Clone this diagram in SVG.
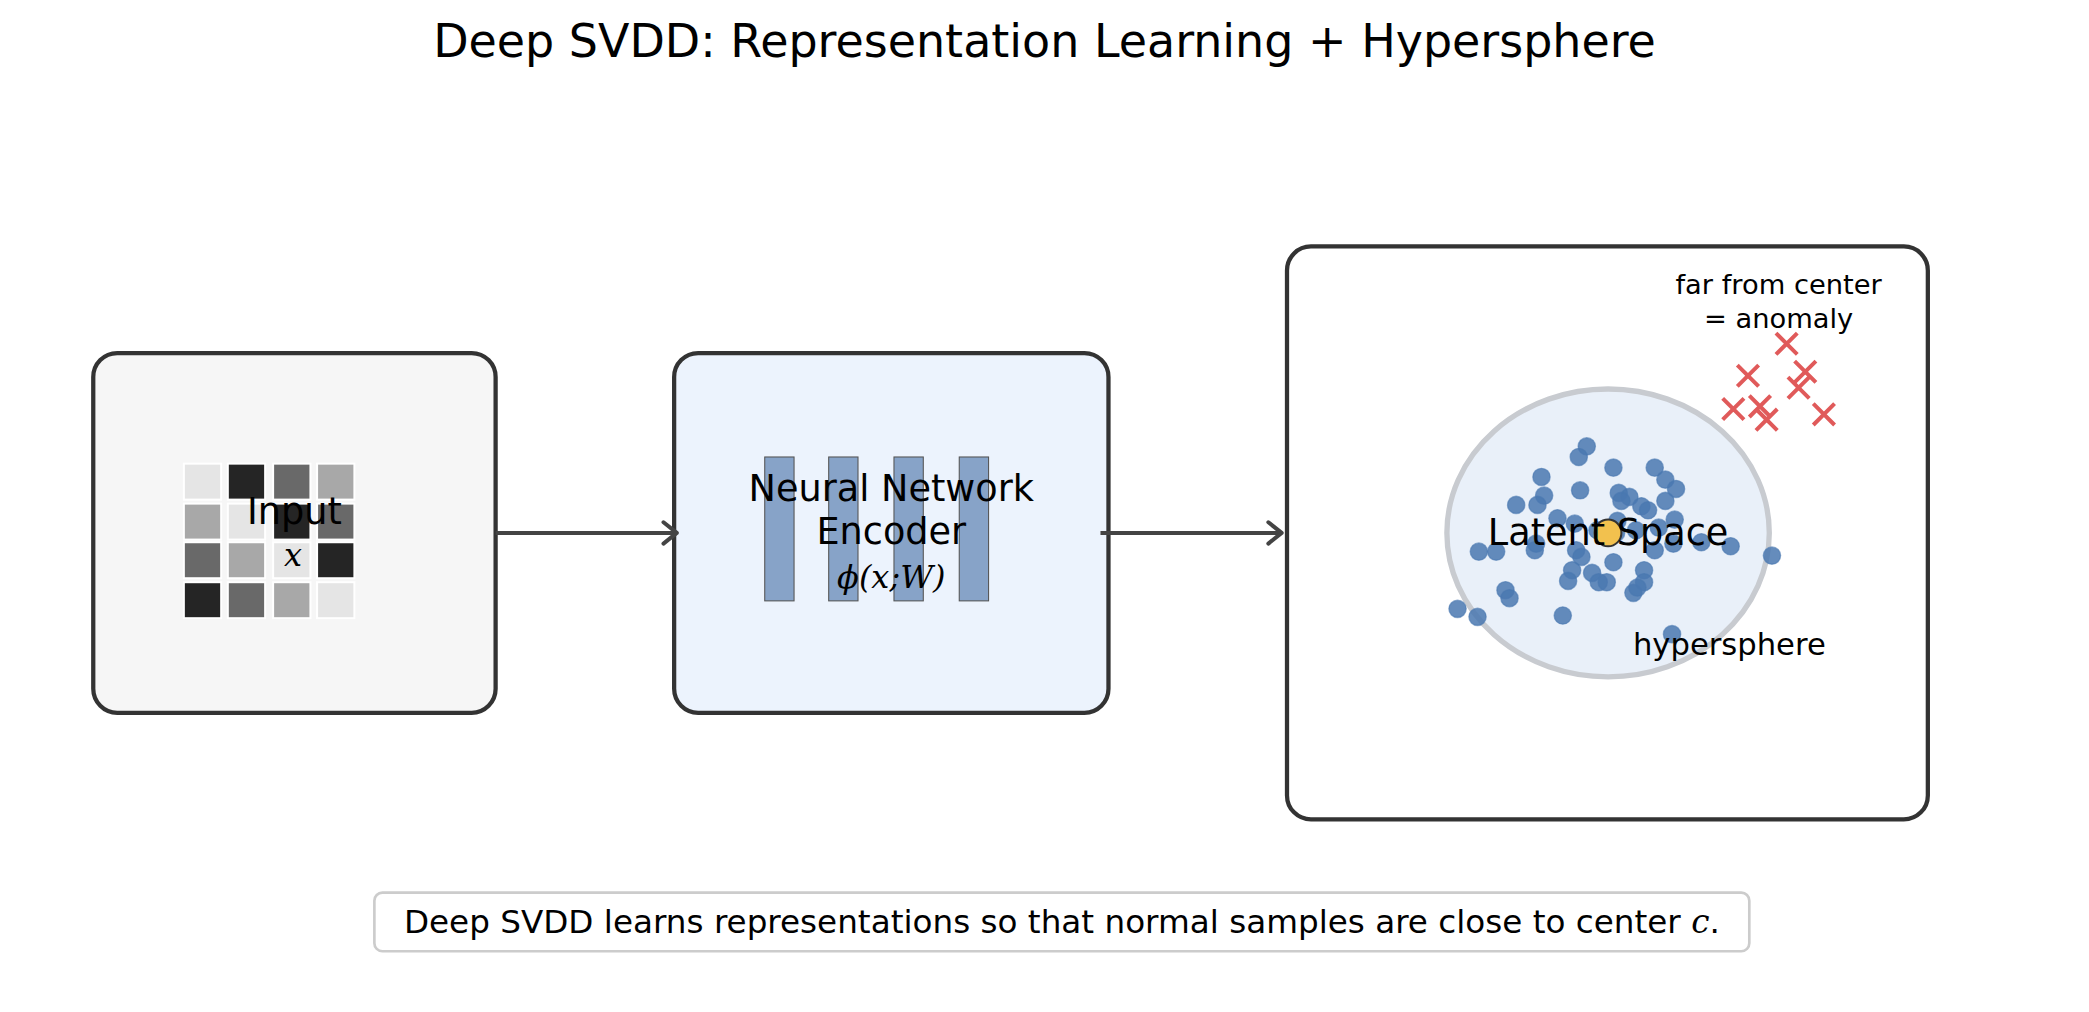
<svg xmlns="http://www.w3.org/2000/svg" width="2089" height="1012" viewBox="0 0 2089 1012">
<style>
text{font-family:"DejaVu Sans",sans-serif;fill:#000;text-anchor:middle}
.m{font-family:"DejaVu Serif","Liberation Serif",serif;font-style:italic}
.box{stroke:#333;stroke-width:3.2}
.bar{fill:#87a3c8;stroke:#555;stroke-width:0.8}
.d{fill:#4a78b0;fill-opacity:0.85;stroke:#4a78b0;stroke-opacity:0.6}
.x{stroke:#e05a5a;stroke-width:3;stroke-linecap:butt}
.c{stroke:#444;stroke-width:3;fill:none}
</style>
<defs>
<marker id="ah" viewBox="0 0 20 20" refX="18" refY="10" markerWidth="20" markerHeight="20" orient="auto" markerUnits="userSpaceOnUse"><path d="M8,2 L18,10 L8,18" fill="none" stroke="#444" stroke-width="3" stroke-linecap="round" stroke-linejoin="round"/></marker>
<g id="cr"><path class="x" d="M-8,-8 L8,8 M-8,8 L8,-8"/></g>
</defs>
<rect width="2089" height="1012" fill="#fff"/>
<g transform="scale(1.3323)">
<text x="784" y="43" font-size="34.5">Deep SVDD: Representation Learning + Hypersphere</text>
<g id="input">
<rect class="box" x="70" y="265" width="302" height="270" rx="18" fill="#f6f6f6"/>
<g stroke="#fff" stroke-width="1.5">
<rect x="138" y="348" width="28" height="27" fill="#e5e5e5"/><rect x="171" y="348" width="28" height="27" fill="#252525"/><rect x="205" y="348" width="28" height="27" fill="#696969"/><rect x="238" y="348" width="28" height="27" fill="#a8a8a8"/>
<rect x="138" y="378" width="28" height="27" fill="#a8a8a8"/><rect x="171" y="378" width="28" height="27" fill="#e5e5e5"/><rect x="205" y="378" width="28" height="27" fill="#252525"/><rect x="238" y="378" width="28" height="27" fill="#696969"/>
<rect x="138" y="407" width="28" height="27" fill="#696969"/><rect x="171" y="407" width="28" height="27" fill="#a8a8a8"/><rect x="205" y="407" width="28" height="27" fill="#e5e5e5"/><rect x="238" y="407" width="28" height="27" fill="#252525"/>
<rect x="138" y="437" width="28" height="27" fill="#252525"/><rect x="171" y="437" width="28" height="27" fill="#696969"/><rect x="205" y="437" width="28" height="27" fill="#a8a8a8"/><rect x="238" y="437" width="28" height="27" fill="#e5e5e5"/>
</g>
<text x="221" y="393" font-size="27.5">Input</text>
<text class="m" x="220" y="425" font-size="24">x</text>
</g>
<g id="encoder">
<rect class="box" x="506" y="265" width="326" height="270" rx="18" fill="#ecf3fd"/>
<rect class="bar" x="574" y="343" width="22" height="108"/><rect class="bar" x="622" y="343" width="22" height="108"/><rect class="bar" x="671" y="343" width="22" height="108"/><rect class="bar" x="720" y="343" width="22" height="108"/>
<text x="669" y="376" font-size="27.5">Neural Network</text>
<text x="669" y="408" font-size="27.5">Encoder</text>
<text class="m" x="669" y="441" font-size="24">ϕ(x;W)</text>
</g>
<g id="latent">
<rect class="box" x="966" y="185" width="481" height="430" rx="18" fill="#fff"/>
<ellipse cx="1207" cy="400" rx="121" ry="108" fill="#e9f0f9" stroke="#c8cbd0" stroke-width="4"/>
<g class="d">
<circle cx="1191" cy="335" r="6.5"/><circle cx="1185" cy="343" r="6.5"/><circle cx="1211" cy="351" r="6.5"/><circle cx="1242" cy="351" r="6.5"/><circle cx="1157" cy="358" r="6.5"/><circle cx="1250" cy="360" r="6.5"/><circle cx="1258" cy="367" r="6.5"/><circle cx="1186" cy="368" r="6.5"/><circle cx="1215" cy="370" r="6.5"/><circle cx="1223" cy="373" r="6.5"/><circle cx="1159" cy="372" r="6.5"/><circle cx="1138" cy="379" r="6.5"/><circle cx="1154" cy="379" r="6.5"/><circle cx="1232" cy="380" r="6.5"/><circle cx="1237" cy="383" r="6.5"/><circle cx="1250" cy="376" r="6.5"/><circle cx="1217" cy="376" r="6.5"/><circle cx="1169" cy="389" r="6.5"/><circle cx="1182" cy="393" r="6.5"/><circle cx="1214" cy="391" r="6.5"/><circle cx="1257" cy="390" r="6.5"/><circle cx="1245" cy="396" r="6.5"/><circle cx="1228" cy="398" r="6.5"/><circle cx="1199" cy="398" r="6.5"/><circle cx="1242" cy="413" r="6.5"/><circle cx="1256" cy="408" r="6.5"/><circle cx="1277" cy="407" r="6.5"/><circle cx="1299" cy="410" r="6.5"/><circle cx="1330" cy="417" r="6.5"/><circle cx="1110" cy="414" r="6.5"/><circle cx="1123" cy="414" r="6.5"/><circle cx="1152" cy="413" r="6.5"/><circle cx="1153" cy="408" r="6.5"/><circle cx="1183" cy="413" r="6.5"/><circle cx="1187" cy="418" r="6.5"/><circle cx="1211" cy="422" r="6.5"/><circle cx="1180" cy="428" r="6.5"/><circle cx="1195" cy="430" r="6.5"/><circle cx="1177" cy="436" r="6.5"/><circle cx="1200" cy="437" r="6.5"/><circle cx="1206" cy="437" r="6.5"/><circle cx="1234" cy="428" r="6.5"/><circle cx="1234" cy="437" r="6.5"/><circle cx="1226" cy="445" r="6.5"/><circle cx="1229" cy="441" r="6.5"/><circle cx="1130" cy="443" r="6.5"/><circle cx="1133" cy="449" r="6.5"/><circle cx="1094" cy="457" r="6.5"/><circle cx="1109" cy="463" r="6.5"/><circle cx="1173" cy="462" r="6.5"/><circle cx="1255" cy="476" r="6.5"/><circle cx="1213" cy="400" r="6.5"/>
</g>
<use href="#cr" x="1341" y="258"/><use href="#cr" x="1312" y="282"/><use href="#cr" x="1355" y="279"/><use href="#cr" x="1350" y="291"/><use href="#cr" x="1301" y="307"/><use href="#cr" x="1321" y="305"/><use href="#cr" x="1326" y="315"/><use href="#cr" x="1369" y="311"/>
<circle cx="1207" cy="400" r="10" fill="#f2c14e" stroke="#333" stroke-width="1.5"/>
<text x="1207" y="409" font-size="27.5">Latent Space</text>
<text x="1298" y="492" font-size="23">hypersphere</text>
<text x="1335" y="221" font-size="20.5">far from center</text>
<text x="1335" y="246" font-size="20.5">= anomaly</text>
</g>
<g id="connectors">
<path class="c" d="M372,400 L508,400" marker-end="url(#ah)"/>
<path class="c" d="M826,400 L962,400" marker-end="url(#ah)"/>
</g>
<g id="caption">
<rect x="281" y="670" width="1032" height="44" rx="6" fill="#fff" stroke="#ccc" stroke-width="2"/>
<text x="797" y="700" font-size="24.5">Deep SVDD learns representations so that normal samples are close to center <tspan class="m">c</tspan>.</text>
</g>
</g>
</svg>
